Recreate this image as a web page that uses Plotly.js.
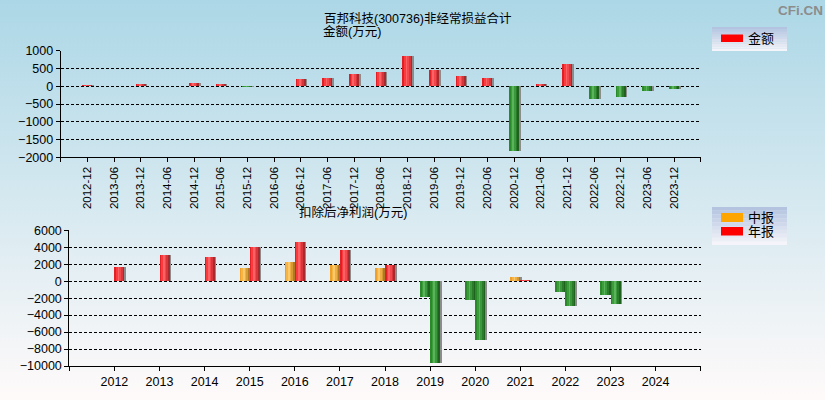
<!DOCTYPE html>
<html>
<head>
<meta charset="utf-8">
<script src="https://cdn.plot.ly/plotly-3.0.1.min.js"></script>
<style>
html, body { margin: 0; padding: 0; }
body { width: 825px; height: 400px; overflow: hidden; background: linear-gradient(#acd7e6, #fffafa); }
#plotArea { width: 825px; height: 400px; }
</style>
</head>
<body>
<div id="plotArea"></div>
<script>
// 非经常损益合计 (万元)
var periods = ['2012-12', '2013-06', '2013-12', '2014-06', '2014-12', '2015-06', '2015-12', '2016-06',
    '2016-12', '2017-06', '2017-12', '2018-06', '2018-12', '2019-06', '2019-12', '2020-06',
    '2020-12', '2021-06', '2021-12', '2022-06', '2022-12', '2023-06', '2023-12'];
var amounts = [30, 0, 60, 0, 90, 60, -30, 0, 200, 230, 340, 400, 850, 460, 290, 230,
    -1810, 60, 620, -355, -300, -130, -75];

// 扣除后净利润 (万元)
var years = [2012, 2013, 2014, 2015, 2016, 2017, 2018, 2019, 2020, 2021, 2022, 2023, 2024];
var midReport = [null, null, null, 1540, 2250, 1900, 1540, -1900, -2210, 470, -1260, -1660, null];
var annualReport = [1660, 3080, 2840, 3990, 4620, 3670, 1900, -9590, -6990, 120, -2960, -2720, null];

var W = 825, H = 400;
function px(x) { return x / W; }
function py(y) { return 1 - y / H; }

var redShade = ['#e21f24', '#fb3a3e', '#ff6265', '#f4474b', '#d6353a', '#a82a2e'];
var greenShade = ['#2a8a2a', '#3c9c3c', '#5ab45a', '#3c983c', '#2a7c2a', '#1f621f'];
var orangeShade = ['#eea02a', '#f6b444', '#fbc86a', '#eeae44', '#d69a34', '#ad7a28'];

// cylinder look: a grey shadow plus layered strips, each one running to the right edge
function stripBars(x, y, xa, ya, width, center, posShade, negShade, shift) {
    var out = [];
    out.push({
        type: 'bar', x: x, y: y, xaxis: xa, yaxis: ya,
        width: width, offset: center - width / 2 + shift,
        marker: {color: '#8c8c8c', line: {width: 0}},
        hoverinfo: 'skip', showlegend: false
    });
    var n = posShade.length;
    for (var k = 0; k < n; k++) {
        out.push({
            type: 'bar', x: x, y: y, xaxis: xa, yaxis: ya,
            width: width - k * width / n, offset: center - width / 2 + k * width / n,
            marker: {color: y.map(function (v) { return v < 0 ? negShade[k] : posShade[k]; }), line: {width: 0}},
            showlegend: false
        });
    }
    return out;
}

var idx = periods.map(function (p, i) { return i; });
var traces = [];
traces = traces.concat(stripBars(idx, amounts, 'x', 'y', 0.375, 0, redShade, greenShade, 0.06));
traces = traces.concat(stripBars(years, midReport, 'x2', 'y2', 0.222, -0.111, orangeShade, greenShade, 0.035));
traces = traces.concat(stripBars(years, annualReport, 'x2', 'y2', 0.222, 0.111, redShade, greenShade, 0.035));

var topTickVals = [-1].concat(idx, [periods.length]);
var topTickText = [''].concat(periods, ['']);
var botTickVals = [years[0] - 1].concat(years, [years[years.length - 1] + 1]);
var botTickText = [''].concat(years.map(String), ['']);

var axisFont = {family: 'Liberation Sans, Arial, sans-serif', size: 12.5, color: '#000'};
var cjk = 'Liberation Sans, Noto Sans CJK SC, sans-serif';

function xAxis(extra) {
    return Object.assign({
        showline: true, linecolor: '#000', linewidth: 1, ticks: 'outside', ticklen: 4, tickcolor: '#000',
        showgrid: false, zeroline: false, tickmode: 'array', tickfont: axisFont, fixedrange: true
    }, extra);
}
function yAxis(extra) {
    return Object.assign({
        showline: true, linecolor: '#000', linewidth: 1, ticks: 'outside', ticklen: 4, tickcolor: '#000',
        showgrid: true, gridcolor: '#000', gridwidth: 1, griddash: '3px,2px', zeroline: false,
        tickformat: 'd', tickfont: axisFont, fixedrange: true
    }, extra);
}

// legend boxes with a vertical gradient
var shapes = [];
function legendBox(x0, y0, x1, y1) {
    var n = 10, top = [180, 196, 224], bot = [244, 244, 250];
    for (var i = 0; i < n; i++) {
        var t = i / (n - 1);
        var c = 'rgb(' + top.map(function (v, j) { return Math.round(v + (bot[j] - v) * t); }).join(',') + ')';
        shapes.push({type: 'rect', xref: 'paper', yref: 'paper', x0: px(x0), x1: px(x1),
            y0: py(y0 + (y1 - y0) * (i + 1) / n), y1: py(y0 + (y1 - y0) * i / n),
            fillcolor: c, line: {width: 0}, layer: 'below'});
    }
}
function swatch(x0, y0, x1, y1, color) {
    shapes.push({type: 'rect', xref: 'paper', yref: 'paper', x0: px(x0), x1: px(x1), y0: py(y1), y1: py(y0),
        fillcolor: color, line: {width: 0}});
}
legendBox(712, 27, 787, 51);
swatch(721, 34.5, 743, 42, '#ff0000');
legendBox(712, 207, 787, 245);
swatch(721, 213, 743, 222, '#ffa500');
swatch(721, 227, 743, 235.5, '#ff0000');

function label(text, x, y, size, extra) {
    return Object.assign({text: text, xref: 'paper', yref: 'paper', x: px(x), y: py(y),
        xanchor: 'left', yanchor: 'middle', showarrow: false,
        font: {family: cjk, size: size, color: '#000'}}, extra);
}

var annotations = [
    label('百邦科技(300736)非经常损益合计', 322, 18, 12.5),
    label('金额(万元)', 321, 32, 12.5),
    label('扣除后净利润(万元)', 297, 212.5, 12.5),
    label('金额', 746, 38.5, 13),
    label('中报', 746, 217.5, 13),
    label('年报', 746, 231.5, 13),
    label('<b>CFi.CN</b>', 776, 10, 13.5, {font: {family: 'Liberation Sans, Arial, sans-serif', size: 13.5, color: '#8c8c8c'}})
];

var layout = {
    width: W, height: H, autosize: false,
    margin: {l: 0, r: 0, t: 0, b: 0},
    paper_bgcolor: 'rgba(0,0,0,0)', plot_bgcolor: 'rgba(0,0,0,0)',
    barmode: 'overlay', bargap: 0,
    showlegend: false,
    xaxis: xAxis({domain: [px(60.7), px(700.7)], range: [-1, periods.length], anchor: 'y',
        tickvals: topTickVals, ticktext: topTickText, tickangle: -90,
        tickfont: {family: 'Liberation Sans, Arial, sans-serif', size: 11.5, color: '#000'}}),
    yaxis: yAxis({domain: [py(157.3), py(50.7)], range: [-2000, 1000], dtick: 500, anchor: 'x'}),
    xaxis2: xAxis({domain: [px(69.3), px(700.7)], range: [years[0] - 1, years[years.length - 1] + 1], anchor: 'y2',
        tickvals: botTickVals, ticktext: botTickText, tickangle: 0}),
    yaxis2: yAxis({domain: [py(366), py(230.3)], range: [-10000, 6000], dtick: 2000, anchor: 'x2'}),
    shapes: shapes,
    annotations: annotations
};

Plotly.newPlot('plotArea', traces, layout, {staticPlot: true, displayModeBar: false});
</script>
</body>
</html>
